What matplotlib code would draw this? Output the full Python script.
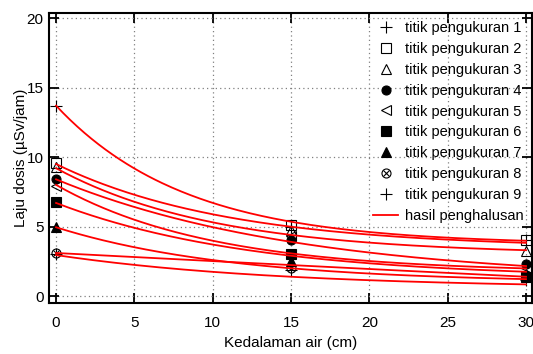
import matplotlib
matplotlib.use("Agg")
import matplotlib.pyplot as plt
import numpy as np
from matplotlib.legend_handler import HandlerTuple

plt.rcParams['font.family'] = ['Liberation Sans', 'DejaVu Sans']

# kedalaman air (cm)
kedalaman = [0, 15, 30]

# titik pengukuran (uSv/jam)
ukur1 = [13.7, 5.0, 4.0]
ukur2 = [9.6, 5.1, 4.0]
ukur3 = [9.3, 4.75, 3.25]
ukur4 = [8.4, 4.0, 2.3]
ukur5 = [7.9, 4.3, 2.0]
ukur6 = [6.75, 3.0, 1.4]
ukur7 = [4.95, 2.5, 1.6]
ukur8 = [3.1, 2.0, 1.5]
ukur9 = [3.0, 1.9, 1.15]

# hasil penghalusan, dibaca pada x = 0, 15, 30
halus1 = [13.7, 5.35, 3.98]
halus2 = [9.5, 4.99, 3.83]
halus3 = [9.2, 4.4, 3.3]
halus4 = [8.4, 3.9, 2.16]
halus5 = [8.0, 3.07, 1.99]
halus6 = [6.7, 2.9, 1.75]
halus7 = [4.95, 2.0, 1.22]
halus8 = [3.1, 2.23, 1.39]
halus9 = [2.95, 1.39, 0.84]

ukur = [ukur1, ukur2, ukur3, ukur4, ukur5, ukur6, ukur7, ukur8, ukur9]
halus = [halus1, halus2, halus3, halus4, halus5, halus6, halus7, halus8, halus9]


def kurva_eksp(xs, ys, x):
    # y = a*exp(-b x) + c lewat tiga titik berjarak sama
    h = xs[1] - xs[0]
    d1 = ys[0] - ys[1]
    d2 = ys[1] - ys[2]
    r = d2 / d1
    b = -np.log(r) / h
    a = d1 / (1 - r)
    c = ys[0] - a
    return a * np.exp(-b * (np.asarray(x) - xs[0])) + c


fig = plt.figure(figsize=(5.33, 3.54), dpi=100)
ax = fig.add_axes([0.092, 0.144, 0.906, 0.819])

mk = dict(color='black', linestyle='none', markersize=6.5, markeredgewidth=0.8, clip_on=False)
gaya = [
    dict(marker='+', markersize=8),
    dict(marker='s', markerfacecolor='none'),
    dict(marker='^', markerfacecolor='none'),
    dict(marker='o'),
    dict(marker='<', markerfacecolor='none'),
    dict(marker='s'),
    dict(marker='^'),
    None,
    dict(marker='+', markersize=8),
]

handles = []
for i, ys in enumerate(ukur):
    if gaya[i] is None:
        h1, = ax.plot(kedalaman, ys, marker='o', markerfacecolor='none', **mk)
        h2, = ax.plot(kedalaman, ys, marker='x', **{**mk, 'markersize': 4.2})
        handles.append((h1, h2))
    else:
        h, = ax.plot(kedalaman, ys, **{**mk, **gaya[i]})
        handles.append(h)

xx = np.linspace(0, 30, 200)
for ys in halus:
    hl, = ax.plot(xx, kurva_eksp(kedalaman, ys, xx), color='red', linewidth=1.3)
handles.append(hl)

labels = ['titik pengukuran %d' % (i + 1) for i in range(9)] + ['hasil penghalusan']

ax.set_xlim(-0.45, 30.38)
ax.set_ylim(-0.5, 20.36)
ax.set_xticks([0, 5, 10, 15, 20, 25, 30])
ax.set_yticks([0, 5, 10, 15, 20])
ax.grid(True, color='#808080', linestyle=(0, (1, 2.5)), linewidth=0.9)
ax.tick_params(direction='in', length=7, width=1.3, top=True, right=True,
               labelsize=11, colors='black')
ax.tick_params(axis='x', pad=9)
ax.tick_params(axis='y', pad=4)
for s in ax.spines.values():
    s.set_linewidth(1.5)

ax.set_xlabel('Kedalaman air (cm)', fontsize=11, labelpad=5)
ax.set_ylabel('Laju dosis (µSv/jam)', fontsize=11, labelpad=-1)

leg = ax.legend(handles, labels, loc='upper right', frameon=False, fontsize=10.5,
                handlelength=1.7, handletextpad=0.5, labelspacing=0.47,
                borderaxespad=0.1, borderpad=0.45,
                handler_map={tuple: HandlerTuple(ndivide=1)})

fig.savefig('out.png', dpi=100)
